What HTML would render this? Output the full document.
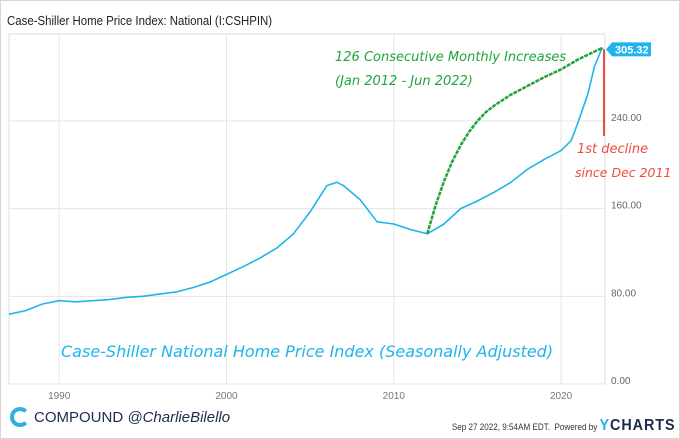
<!DOCTYPE html>
<html><head><meta charset="utf-8"><style>
body{margin:0;background:#fff;font-family:"Liberation Sans",sans-serif}
#wrap{position:relative;width:678px;height:437px;border:1px solid #d8d8d8;overflow:hidden}
.t{position:absolute;white-space:nowrap}
</style></head><body>
<div id="wrap">
<div class="t" style="left:6px;top:12px;font-size:13px;color:#222;transform:scaleX(0.88);transform-origin:left">Case-Shiller Home Price Index: National (I:CSHPIN)</div>
<svg id="chart" width="680" height="439" style="position:absolute;left:0;top:0"></svg>
<div class="t" style="left:9px;top:406px;width:20px;height:20px;border:4px solid #2bb1e6;border-right-color:transparent;border-radius:50%;box-sizing:border-box"></div>
<div class="t" style="left:33px;top:408px;font-size:15px;color:#1d2b4f">COMPOUND <i style="font-size:15px">@CharlieBilello</i></div>
<div class="t" style="right:4px;top:416px;font-size:9px;color:#333;transform:scaleX(0.9);transform-origin:right">Sep 27 2022, 9:54AM EDT.&nbsp; Powered by <b style="font-size:16px;color:#1d2b4f;letter-spacing:1px"><span style="color:#2bb1e6">Y</span>CHARTS</b></div>
</div>
<script>
const years=[1987,1988,1989,1990,1991,1992,1993,1994,1995,1996,1997,1998,1999,2000,2001,2002,2003,2004,2005,2006,2006.6,2007,2008,2009,2010,2011,2012,2013,2014,2015,2016,2017,2018,2019,2020,2020.6,2021,2021.6,2022,2022.45,2022.5];
const values=[63.7,67,73,76,75,76,77,79,80,82,84,88,93,100,107,115,124,137,157,181,184,181,168,148,146,141,137,146,160,167,175,184,196,205,213,222,238,265,290,306.7,305.32];
const greenYears=[2012,2012.5,2013,2013.5,2014,2014.5,2015,2015.5,2016,2017,2018,2019,2020,2021,2022.45];
const greenValues=[137,163,185,203,218,230,240,248,254,264,272,280,287,296,306.7];
const yTicks=[0,80,160,240];
const xTicks=[1990,2000,2010,2020];
const svg=document.getElementById('chart');
const NS='http://www.w3.org/2000/svg';
const X0=8,X1=604,Y0=33,Y1=383;
const xs=y=>X0+(y-1987)*16.73;
const ys=v=>Y1-v*1.096;
function mk(t,a){const e=document.createElementNS(NS,t);for(const k in a)e.setAttribute(k,a[k]);svg.appendChild(e);return e;}
let r=mk('rect',{x:X0,y:Y0,width:X1-X0,height:Y1-Y0,fill:'none',stroke:'#ddd'});


xTicks.forEach(t=>{
 let l=mk('line',{x1:xs(t),x2:xs(t),y1:Y0,y2:Y1,stroke:'#e6e6e6'});
 
 
 let tx=mk('text',{x:xs(t),y:398,'font-size':10,fill:'#777','text-anchor':'middle'});tx.textContent=t;
 
 
});
yTicks.forEach(t=>{
 let l=mk('line',{x1:X0,x2:X1,y1:ys(t),y2:ys(t),stroke:'#e6e6e6'});
 
 
 let tx=mk('text',{x:610,y:ys(t)-0,'font-size':10,fill:'#666'});tx.textContent=t.toFixed(2);
 
 
});
let d=years.map((y,i)=>(i?'L':'M')+xs(y).toFixed(1)+','+ys(values[i]).toFixed(1)).join('');
let p=mk('path',{d:d,fill:'none',stroke:'#1fb5ec','stroke-width':1.6,'stroke-linejoin':'round'});


let gd=greenYears.map((y,i)=>(i?'L':'M')+xs(y).toFixed(1)+','+ys(greenValues[i]).toFixed(1)).join('');
let g=mk('path',{d:gd,fill:'none',stroke:'#1fa53a','stroke-width':2.5,'stroke-dasharray':'4,1','stroke-linejoin':'round'});


const last=values[values.length-1];
let rl=mk('line',{x1:603,x2:603,y1:ys(last),y2:135,stroke:'#f04a3a','stroke-width':2});


let tag=mk('path',{d:`M605,${ys(last)} L611,${ys(last)-7} H650 V${ys(last)+7} H611 Z`,fill:'#1fb5ec'});


let tt=mk('text',{x:614,y:ys(last)+4,'font-size':11,'font-weight':'bold',fill:'#fff'});tt.textContent=last.toFixed(2);


function note(x,y,s,c,sz,name){let e=mk('text',{x:x,y:y,'font-size':sz,fill:c,'font-style':'italic','font-family':'DejaVu Sans, sans-serif'});e.textContent=s;

}
note(334,60,'126 Consecutive Monthly Increases','#1fa53a',13,'increase-note');
note(334,84,'(Jan 2012 - Jun 2022)','#1fa53a',13,'increase-dates-note');
note(576,152,'1st decline','#f04a3a',13,'decline-note');
note(574,176,'since Dec 2011','#f04a3a',12.5,'decline-since-note');
note(60,356,'Case-Shiller National Home Price Index (Seasonally Adjusted)','#1fb5ec',16,'series-caption');
</script>
</body></html>
